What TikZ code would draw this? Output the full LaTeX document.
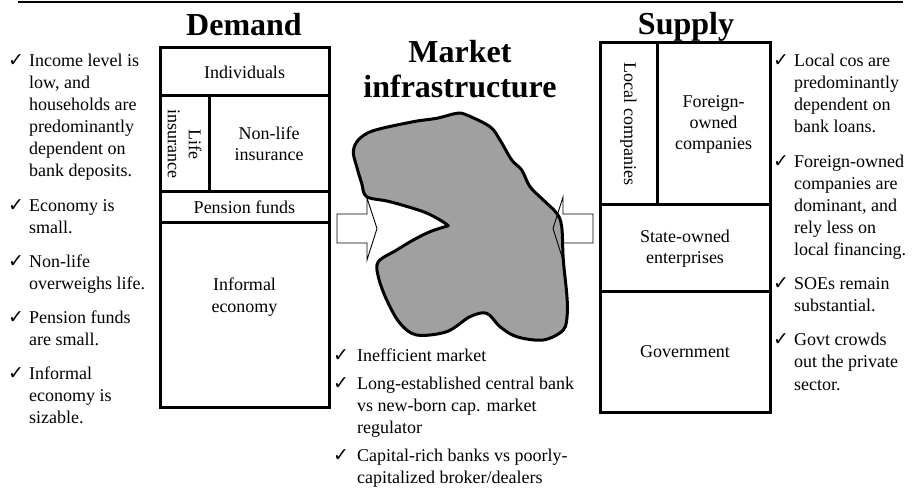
\documentclass[tikz,border=0pt]{standalone}
\usepackage{fontspec}
\setmainfont{Liberation Serif}
\newfontfamily\chkfont{DejaVu Sans}
\newcommand\tl[1]{\begin{tabular}[t]{@{}l@{}}#1\end{tabular}}
\definecolor{blobgray}{RGB}{160,160,160}
\begin{document}
\begin{tikzpicture}[x=1pt,y=-1pt,
  txt/.style={font=\fontsize{18}{22}\selectfont, inner sep=0pt, anchor=base west},
  ck/.style={font=\chkfont\fontsize{19}{19}\selectfont, inner sep=0pt, anchor=base west},
  cell/.style={draw, line width=3pt, inner sep=0pt, outer sep=0pt, font=\fontsize{18}{21}\selectfont, align=center},
  ctext/.style={inner sep=0pt, font=\fontsize{18}{22}\selectfont, align=center},
  title/.style={font=\bfseries\fontsize{32}{35}\selectfont, inner sep=0pt, anchor=base},
  barrow/.style={draw, line width=0.9pt, line join=miter},
]
\useasboundingbox (0,0) rectangle (914,489);

% top rule
\coordinate (rl) at (18,2);
\coordinate (rr) at (903,2);
\draw[line width=2.5pt] (rl) -- (rr);

% titles
\node[title] (dem) at (244,36) {Demand};
\node[title] (sup) at (686,35) {Supply};
\node[title] (mkt1) at (460,63) {Market};
\node[title] (mkt2) at (460,98) {infrastructure};

% demand box
\node[cell, minimum width=169, minimum height=48] (ind) at (244.5,72) {Individuals};
\node[cell, rotate=-90, minimum width=96, minimum height=49] (life) at (184.5,144) {Life\\insurance};
\node[cell, minimum width=120, minimum height=96] (nonlife) at (269,144) {Non-life\\insurance};
\node[cell, minimum width=169, minimum height=31] (pens) at (244.5,207.5) {Pension funds};
\node[cell, minimum width=169, minimum height=184] (inf) at (244.5,315) {};
\node[ctext] (inftxt) at (244.5,297) {Informal\\economy};

% supply box
\node[cell, rotate=-90, minimum width=162, minimum height=57] (local) at (628.5,124) {Local companies};
\node[cell, minimum width=113, minimum height=162] (foreign) at (713.5,124) {Foreign-\\owned\\companies};
\node[cell, minimum width=170, minimum height=87] (soe) at (685,248.5) {State-owned\\enterprises};
\node[cell, minimum width=170, minimum height=120] (gov) at (685,352) {Government};

% blob
\draw[line width=3pt, fill=blobgray, line join=round]
  plot[smooth, tension=0.55] coordinates {
   (448.3,225.7) (440,220) (423.3,211.7) (390,201.7) (366.7,196.7) (361.7,183.3)
   (356.7,166.7) (353.3,151.7) (358.3,140) (373.3,130.7) (413.3,121.7) (436.7,118.3)
   (456.7,113.3) (466.7,115) (490,126.7) (500,140) (511.7,160) (521.7,170)
   (530,186.7) (543.3,200) (556.7,213.3) (561.7,226.7) (563.3,260) (566.7,293.3)
   (567.3,313.3) (563.3,330) (543.3,340) (516.7,336.7) (500,326.7) (486.7,313.3)
   (470,316.7) (446.7,331.7) (416.7,335) (400,323.3) (386.7,300) (378.3,276.7)
   (378.3,261.7) (396.7,250) (413.3,240) (430,231.7) (448.3,225.7)} -- cycle;

% block arrows
\draw[barrow] (337,214) -- (367,214) -- (367,198) -- (377,228.5) -- (367,260) -- (367,243) -- (337,243) -- cycle;
\draw[barrow] (593,214) -- (563,214) -- (563,197) -- (553,228.5) -- (563,260) -- (563,243) -- (593,243) -- cycle;

% left notes
\node[ck] (lc1) at (8,67) {✓};
\node[txt] (lt1) at (29,67) {\tl{Income level is\\low, and\\households are\\predominantly\\dependent on\\bank deposits.}};
\node[ck] (lc2) at (8,212) {✓};
\node[txt] (lt2) at (29,212) {\tl{Economy is\\small.}};
\node[ck] (lc3) at (8,268) {✓};
\node[txt] (lt3) at (29,268) {\tl{Non-life\\overweighs life.}};
\node[ck] (lc4) at (8,324) {✓};
\node[txt] (lt4) at (29,324) {\tl{Pension funds\\are small.}};
\node[ck] (lc5) at (8,380) {✓};
\node[txt] (lt5) at (29,380) {\tl{Informal\\economy is\\sizable.}};

% right notes
\node[ck] (rc1) at (773,67) {✓};
\node[txt] (rt1) at (794,67) {\tl{Local cos are\\predominantly\\dependent on\\bank loans.}};
\node[ck] (rc2) at (773,168) {✓};
\node[txt] (rt2) at (794,168) {\tl{Foreign-owned\\companies are\\dominant, and\\rely less on\\local financing.}};
\node[ck] (rc3) at (773,290) {✓};
\node[txt] (rt3) at (794,290) {\tl{SOEs remain\\substantial.}};
\node[ck] (rc4) at (773,346) {✓};
\node[txt] (rt4) at (794,346) {\tl{Govt crowds\\out the private\\sector.}};

% bottom notes
\node[ck] (bc1) at (333,362) {✓};
\node[txt] (bt1) at (357,362) {\tl{Inefficient market}};
\node[ck] (bc2) at (333,389) {✓};
\node[txt] (bt2) at (357,389) {\tl{Long-established central bank\\vs new-born cap. market\\regulator}};
\node[ck] (bc3) at (333,461) {✓};
\node[txt] (bt3) at (357,461) {\tl{Capital-rich banks vs poorly-\\capitalized broker/dealers}};
\end{tikzpicture}
\end{document}
